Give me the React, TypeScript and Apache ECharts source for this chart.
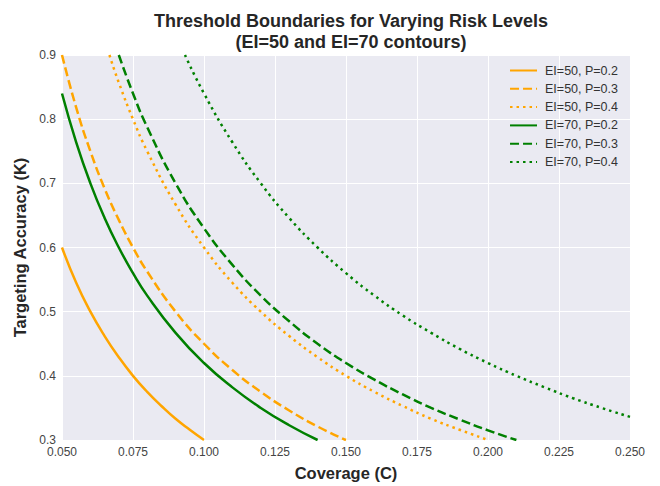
import React, { useEffect, useRef } from "react";
import * as echarts from "echarts";

const xTicks = [0.05, 0.075, 0.1, 0.125, 0.15, 0.175, 0.2, 0.225, 0.25];
const yTicks = [0.3, 0.4, 0.5, 0.6, 0.7, 0.8, 0.9];

const ei50p02: [number, number][] = [
  [0.05, 0.6], [0.055, 0.545], [0.06, 0.5], [0.065, 0.462], [0.07, 0.429], [0.075, 0.4],
  [0.08, 0.375], [0.085, 0.353], [0.09, 0.333], [0.095, 0.316], [0.1, 0.3],
];
const ei50p03: [number, number][] = [
  [0.05, 0.9], [0.055, 0.818], [0.06, 0.75], [0.065, 0.692], [0.07, 0.643], [0.075, 0.6],
  [0.08, 0.5625], [0.09, 0.5], [0.1, 0.45], [0.11, 0.409], [0.12, 0.375], [0.13, 0.346],
  [0.14, 0.321], [0.15, 0.3],
];
const ei50p04: [number, number][] = [
  [0.0667, 0.9], [0.07, 0.857], [0.075, 0.8], [0.08, 0.75], [0.09, 0.667], [0.1, 0.6],
  [0.11, 0.545], [0.12, 0.5], [0.13, 0.462], [0.14, 0.429], [0.15, 0.4], [0.16, 0.375],
  [0.17, 0.353], [0.18, 0.333], [0.19, 0.316], [0.2, 0.3],
];
const ei70p02: [number, number][] = [
  [0.05, 0.84], [0.055, 0.764], [0.06, 0.7], [0.065, 0.646], [0.07, 0.6], [0.075, 0.56],
  [0.08, 0.525], [0.09, 0.467], [0.1, 0.42], [0.11, 0.382], [0.12, 0.35], [0.13, 0.323],
  [0.14, 0.3],
];
const ei70p03: [number, number][] = [
  [0.07, 0.9], [0.075, 0.84], [0.08, 0.7875], [0.09, 0.7], [0.1, 0.63], [0.11, 0.573],
  [0.12, 0.525], [0.13, 0.485], [0.14, 0.45], [0.15, 0.42], [0.16, 0.394], [0.17, 0.371],
  [0.18, 0.35], [0.19, 0.332], [0.2, 0.315], [0.21, 0.3],
];
const ei70p04: [number, number][] = [
  [0.0933, 0.9], [0.1, 0.84], [0.11, 0.764], [0.12, 0.7], [0.13, 0.646], [0.14, 0.6],
  [0.15, 0.56], [0.16, 0.525], [0.17, 0.494], [0.18, 0.467], [0.19, 0.442], [0.2, 0.42],
  [0.21, 0.4], [0.22, 0.382], [0.23, 0.365], [0.24, 0.35], [0.25, 0.336],
];

const ORANGE = "#FFA500";
const GREEN = "#008000";
const DASH = [9, 4];
const DOT = [2.5, 4];

const seriesDefs = [
  { name: "EI=50, P=0.2", data: ei50p02, color: ORANGE, type: "solid" as any },
  { name: "EI=50, P=0.3", data: ei50p03, color: ORANGE, type: DASH },
  { name: "EI=50, P=0.4", data: ei50p04, color: ORANGE, type: DOT },
  { name: "EI=70, P=0.2", data: ei70p02, color: GREEN, type: "solid" as any },
  { name: "EI=70, P=0.3", data: ei70p03, color: GREEN, type: DASH },
  { name: "EI=70, P=0.4", data: ei70p04, color: GREEN, type: DOT },
];

const FONT = "Liberation Sans, Arial, sans-serif";

export default function App() {
  const ref = useRef<HTMLDivElement>(null);
  useEffect(() => {
    if (!ref.current) return;
    const chart = echarts.init(ref.current, undefined, { renderer: "svg" });
    chart.setOption({
      animation: false,
      backgroundColor: "#ffffff",
      textStyle: { fontFamily: FONT },
      title: {
        text: "Threshold Boundaries for Varying Risk Levels\n(EI=50 and EI=70 contours)",
        left: 346,
        top: 5,
        textAlign: "center",
        textStyle: { fontSize: 18, fontWeight: "bold", color: "#262626", lineHeight: 21, fontFamily: FONT },
      },
      grid: { left: 62, width: 568, top: 55, height: 388, show: true, backgroundColor: "#EAEAF2", borderWidth: 0 },
      legend: {
        orient: "vertical",
        right: 37,
        top: 59,
        itemWidth: 27,
        itemHeight: 14,
        itemGap: 5.3,
        itemStyle: { opacity: 0 },
        textStyle: { fontSize: 12.5, color: "#333333", fontFamily: FONT, padding: [0, 0, 0, 3] },
        data: seriesDefs.map((s) => s.name),
      },
      xAxis: {
        type: "value",
        min: 0.05,
        max: 0.25,
        interval: 0.025,
        name: "Coverage (C)",
        nameLocation: "middle",
        nameGap: 24,
        nameTextStyle: { fontSize: 16.5, fontWeight: "bold", color: "#262626", fontFamily: FONT },
        axisLine: { show: false },
        axisTick: { show: false },
        axisLabel: {
          fontSize: 12,
          color: "#444444",
          margin: 6,
          formatter: (v: number) => v.toFixed(3),
          customValues: xTicks,
        },
        splitLine: { show: true, lineStyle: { color: "#ffffff", width: 1 } },
      },
      yAxis: {
        type: "value",
        min: 0.3,
        max: 0.9,
        interval: 0.1,
        name: "Targeting Accuracy (K)",
        nameLocation: "middle",
        nameGap: 32,
        nameTextStyle: { fontSize: 16.5, fontWeight: "bold", color: "#262626", fontFamily: FONT },
        axisLine: { show: false },
        axisTick: { show: false },
        axisLabel: {
          fontSize: 12,
          color: "#444444",
          margin: 6,
          formatter: (v: number) => v.toFixed(1),
          customValues: yTicks,
        },
        splitLine: { show: true, lineStyle: { color: "#ffffff", width: 1 } },
      },
      series: seriesDefs.map((s) => ({
        name: s.name,
        type: "line",
        data: s.data,
        smooth: true,
        symbol: "none",
        showSymbol: false,
        color: s.color,
        itemStyle: { color: s.color },
        lineStyle: { color: s.color, width: 2.5, type: s.type, cap: "butt" },
      })),
    });
    return () => chart.dispose();
  }, []);
  return <div ref={ref} style={{ width: 660, height: 486, position: "fixed", left: 0, top: 0 }} />;
}
